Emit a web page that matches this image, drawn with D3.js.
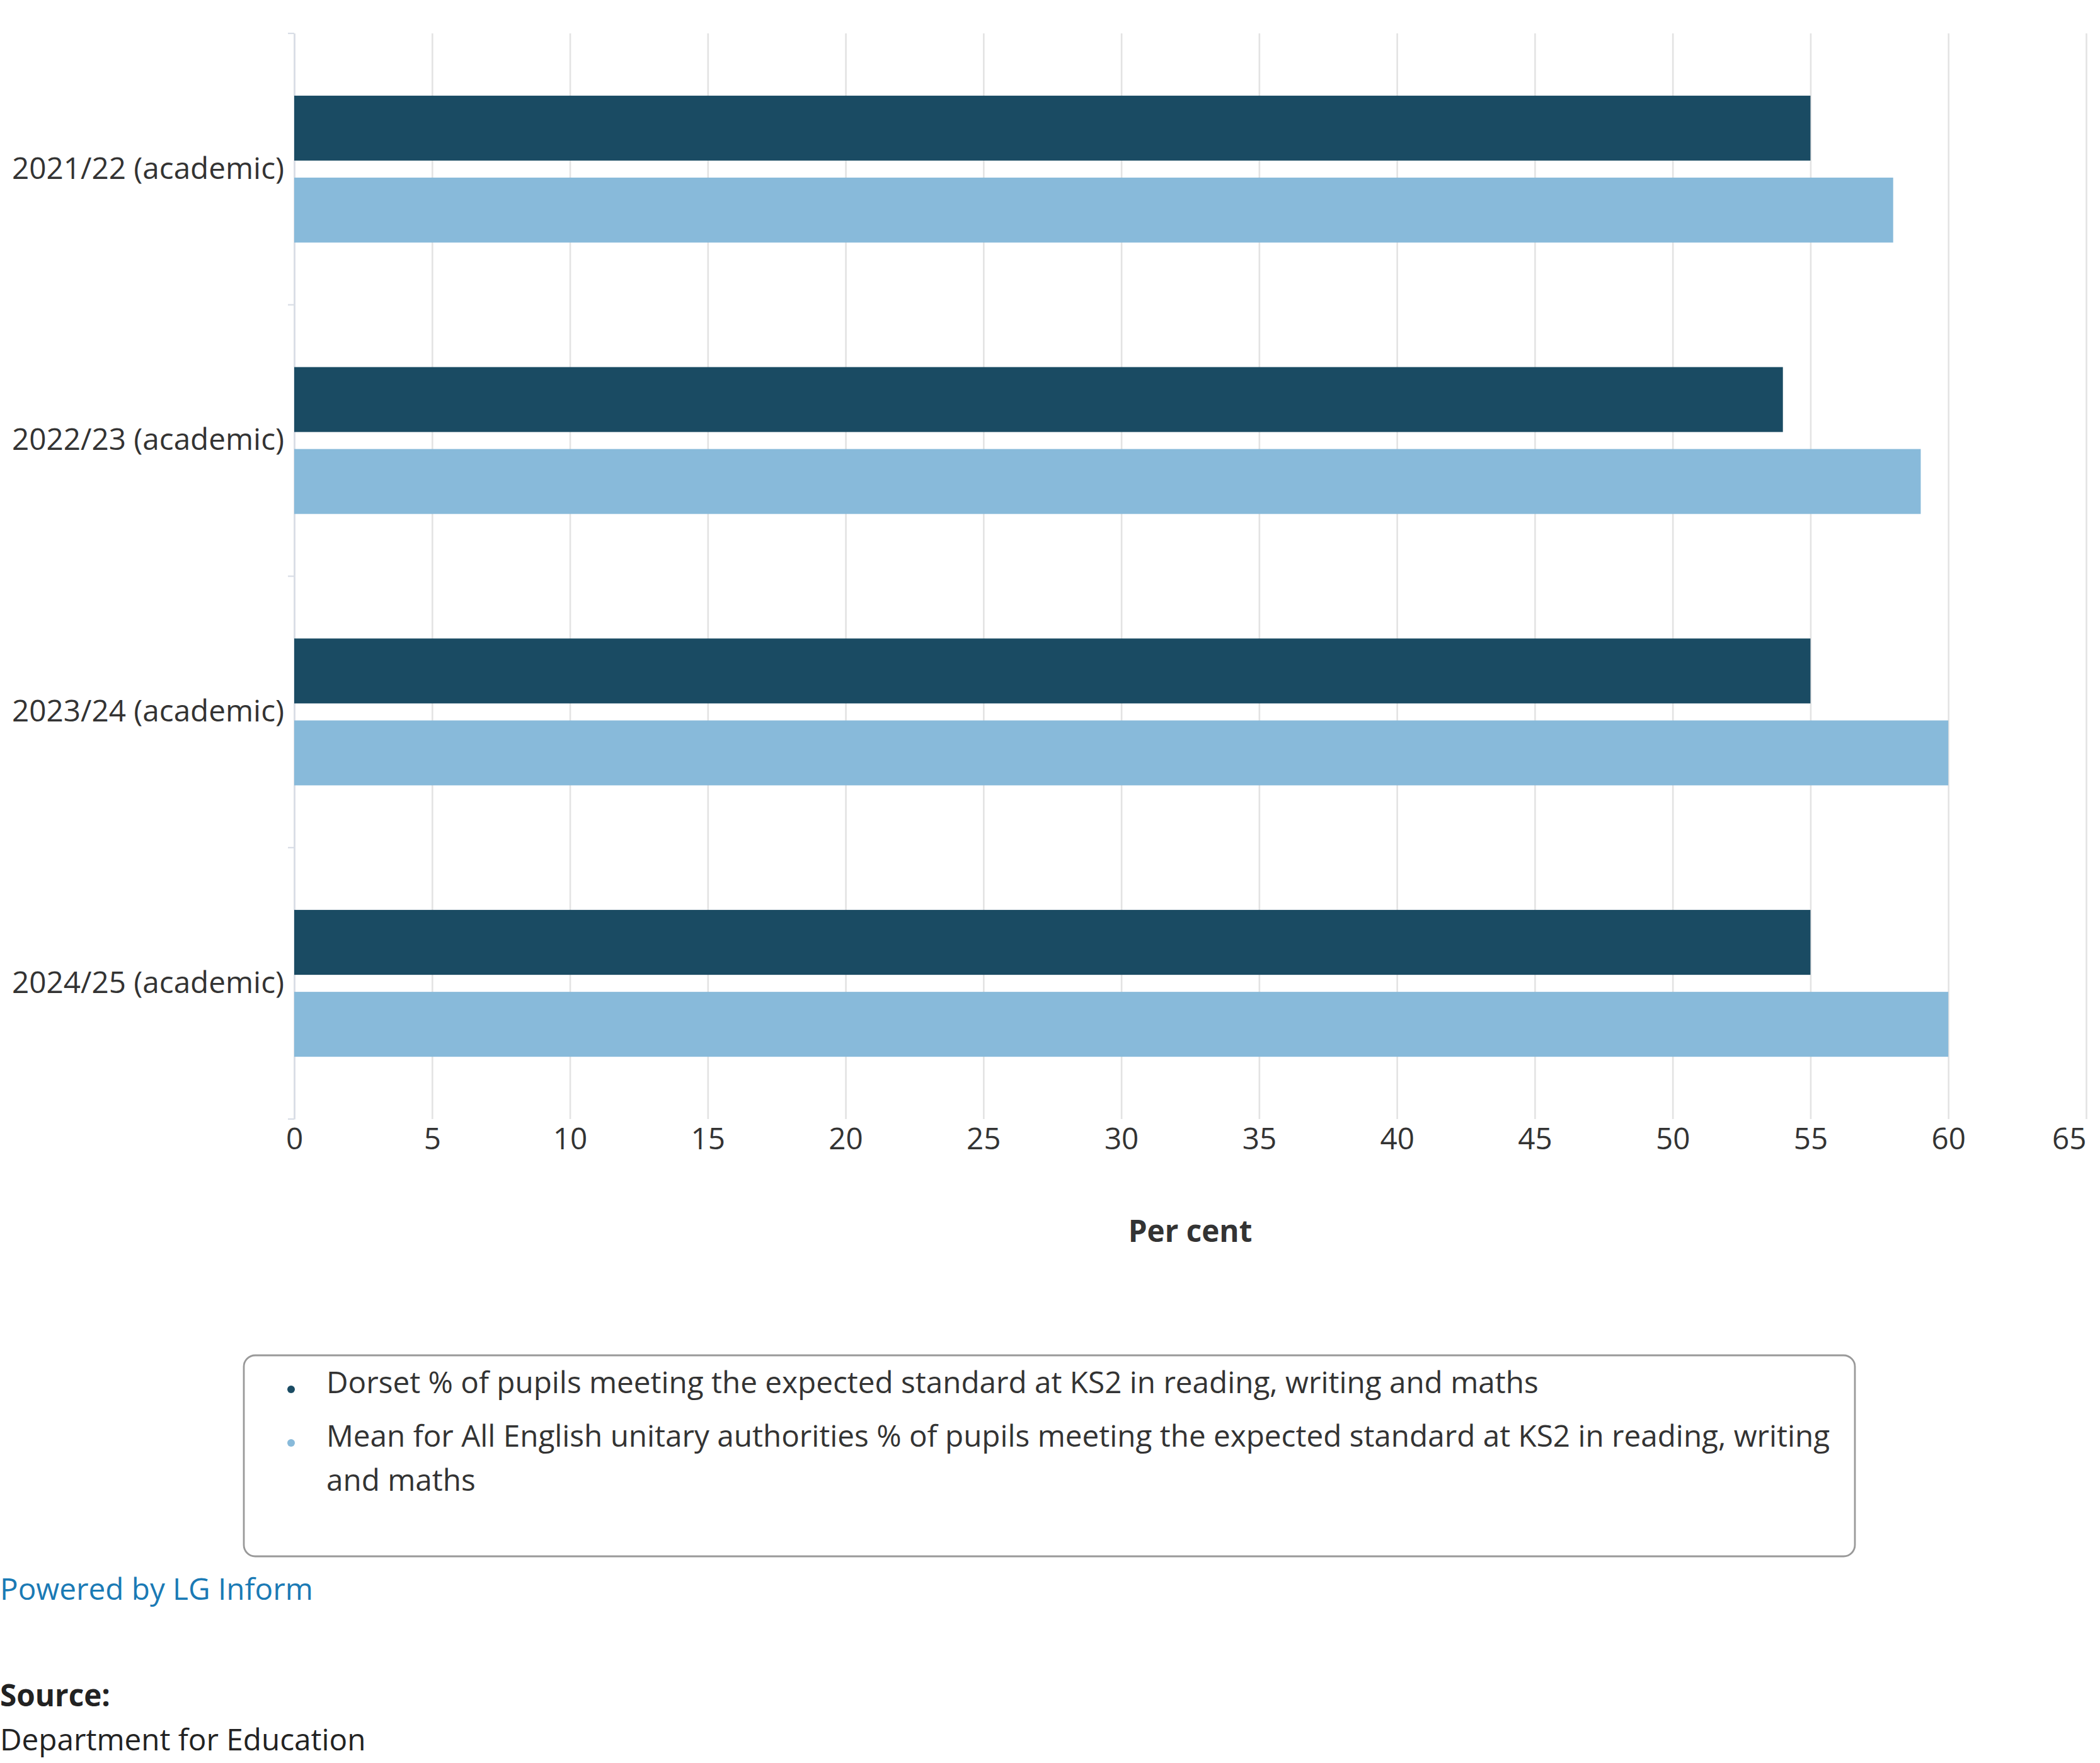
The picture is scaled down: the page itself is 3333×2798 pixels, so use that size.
<!DOCTYPE html>
<html>
<head>
<meta charset="utf-8">
<script src="https://cdn.jsdelivr.net/npm/d3@7"></script>
<style>
  html, body { margin: 0; padding: 0; background: #ffffff; }
  svg { display: block; font-family: "Open Sans", "Noto Sans", sans-serif; }
</style>
</head>
<body>
<svg id="chart" width="3333" height="2798"></svg>
<script>
// ---------- data ----------
const categories = ["2021/22 (academic)", "2022/23 (academic)", "2023/24 (academic)", "2024/25 (academic)"];
const seriesNames = [
  "Dorset % of pupils meeting the expected standard at KS2 in reading, writing and maths",
  "Mean for All English unitary authorities % of pupils meeting the expected standard at KS2 in reading, writing and maths"
];
const dorsetValues = [55, 54, 55, 55];
const meanValues = [58, 59, 60, 60];
const seriesColors = ["#1a4b63", "#88bada"];
const xTicks = [0, 5, 10, 15, 20, 25, 30, 35, 40, 45, 50, 55, 60, 65];
const xAxisTitle = "Per cent";
const creditText = "Powered by LG Inform";
const sourceLabel = "Source:";
const sourceText = "Department for Education";

// ---------- layout ----------
const fs = 47.65;
const plot = { left: 467, right: 3311, top: 53, bottom: 1776 };
const textColor = "#333333";

const svg = d3.select("#chart");

const x = d3.scaleLinear().domain([0, 65]).range([plot.left, plot.right]);
const y0 = d3.scaleBand().domain(categories).range([plot.top, plot.bottom]).paddingInner(0).paddingOuter(0);
const y1 = d3.scaleBand().domain([0, 1]).range([0, y0.bandwidth()]).paddingInner(0.2077).paddingOuter(0.76);

const rows = categories.map((c, i) => ({ cat: c, vals: [dorsetValues[i], meanValues[i]] }));

// ---------- gridlines + x labels ----------
const xAxis = d3.axisBottom(x).tickValues(xTicks).tickSizeInner(-(plot.bottom - plot.top)).tickSizeOuter(0).tickPadding(14);
const gx = svg.append("g").attr("transform", `translate(0,${plot.bottom})`).call(xAxis);
gx.select(".domain").remove();
gx.selectAll(".tick line").attr("stroke", "#e3e3e3").attr("stroke-width", 2.6);
gx.selectAll(".tick text")
  .attr("fill", textColor)
  .style("font-size", fs + "px")
  .style("font-family", "'Open Sans'")
  .attr("text-anchor", (d, i) => i === xTicks.length - 1 ? "end" : "middle");

// ---------- category axis ----------
const yAxis = d3.axisLeft(y0).tickSize(0).tickPadding(16);
const gy = svg.append("g").attr("transform", `translate(${plot.left},0)`).call(yAxis);
gy.select(".domain").attr("stroke", "#d8dde6").attr("stroke-width", 2.4);
gy.selectAll(".tick text")
  .attr("fill", textColor)
  .style("font-size", fs + "px")
  .style("font-family", "'Open Sans'");

// boundary ticks (between categories)
const boundaries = categories.map(c => y0(c)).concat([y0(categories[categories.length - 1]) + y0.bandwidth()]);
svg.append("g").selectAll("line").data(boundaries).join("line")
  .attr("x1", plot.left - 10).attr("x2", plot.left)
  .attr("y1", d => d).attr("y2", d => d)
  .attr("stroke", "#d8dde6").attr("stroke-width", 2.2);

// ---------- bars ----------
const gBars = svg.append("g");
rows.forEach(r => {
  gBars.append("g").attr("transform", `translate(0,${y0(r.cat)})`)
    .selectAll("rect").data(r.vals.map((v, k) => ({ v, k }))).join("rect")
    .attr("x", x(0))
    .attr("y", d => y1(d.k))
    .attr("width", d => x(d.v) - x(0))
    .attr("height", y1.bandwidth())
    .attr("fill", d => seriesColors[d.k]);
});

// ---------- axis title ----------
svg.append("text")
  .attr("x", (plot.left + plot.right) / 2).attr("y", 1971)
  .attr("text-anchor", "middle")
  .attr("fill", textColor)
  .style("font-size", fs + "px").style("font-weight", "bold")
  .text(xAxisTitle);

// ---------- legend ----------
const legend = { x: 387, y: 2151, w: 2557, h: 319 };
svg.append("rect")
  .attr("x", legend.x).attr("y", legend.y).attr("width", legend.w).attr("height", legend.h)
  .attr("rx", 18).attr("ry", 18)
  .attr("fill", "#ffffff").attr("stroke", "#999999").attr("stroke-width", 2.8);

const textX = 518, maxW = 2420, lineH = 69.5;
let baseline = 2211;
seriesNames.forEach((name, i) => {
  const t = svg.append("text")
    .attr("x", textX).attr("y", baseline)
    .attr("fill", textColor)
    .style("font-size", fs + "px");
  const words = name.split(" ");
  let line = [];
  let tspan = t.append("tspan").attr("x", textX).attr("y", baseline);
  let lines = 1;
  words.forEach(w => {
    line.push(w);
    tspan.text(line.join(" "));
    if (tspan.node().getComputedTextLength() > maxW && line.length > 1) {
      line.pop();
      tspan.text(line.join(" "));
      line = [w];
      tspan = t.append("tspan").attr("x", textX).attr("y", baseline + lines * lineH).text(w);
      lines++;
    }
  });
  svg.append("circle")
    .attr("cx", 462).attr("cy", baseline - 6).attr("r", 6)
    .attr("fill", seriesColors[i]);
  baseline += 85;
});

// ---------- credits / source ----------
svg.append("text")
  .attr("x", 0).attr("y", 2539)
  .attr("fill", "#1a7ab5")
  .style("font-size", fs + "px")
  .text(creditText);

svg.append("text")
  .attr("x", 0).attr("y", 2708)
  .attr("fill", "#222222")
  .style("font-size", fs + "px").style("font-weight", "bold")
  .text(sourceLabel);

svg.append("text")
  .attr("x", 0).attr("y", 2778)
  .attr("fill", "#222222")
  .style("font-size", fs + "px")
  .text(sourceText);
</script>
</body>
</html>
